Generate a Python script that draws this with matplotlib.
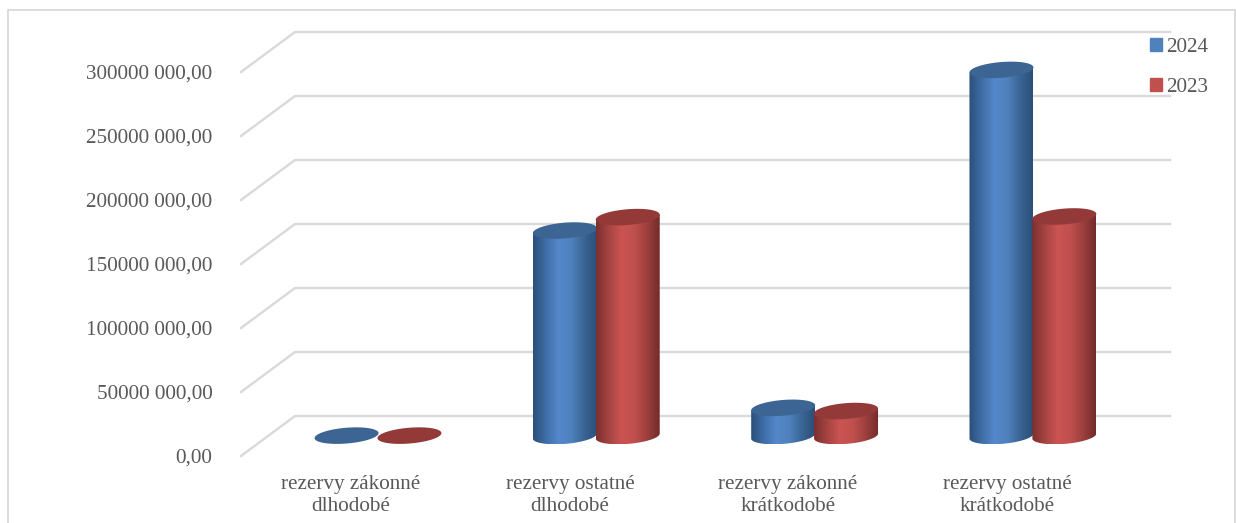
import numpy as np
import matplotlib.pyplot as plt
from matplotlib.colors import LinearSegmentedColormap
from matplotlib.patches import Patch, PathPatch
from matplotlib.path import Path

categories = ["rezervy zákonné\ndlhodobé", "rezervy ostatné\ndlhodobé",
              "rezervy zákonné\nkrátkodobé", "rezervy ostatné\nkrátkodobé"]
values_2024 = [300000, 160500000, 22000000, 286000000]
values_2023 = [300000, 171000000, 19500000, 171500000]
y_ticks = [0, 50000000, 100000000, 150000000, 200000000, 250000000, 300000000]
y_tick_labels = ["0,00", "50000 000,00", "100000 000,00", "150000 000,00",
                 "200000 000,00", "250000 000,00", "300000 000,00"]

plt.rcParams["font.family"] = ["Liberation Serif", "DejaVu Sans"]
TEXT = "#595959"
GRID = "#d9d9d9"

# px scale of the picture: 64 px per 50M, one category every 218.3 px
PX_Y = 1.28 / 1e6
PX_X = 218.3
X0, Y0 = 378.0, 436.0


def xd(px):
    return (px - X0) / PX_X


def yd(px):
    return (Y0 - px) / PX_Y


fig = plt.figure(figsize=(12.36, 5.23), dpi=100)
ax = fig.add_axes([0, 0, 1, 1])
ax.axis("off")

# chart frame, bottom is cut off in the original
ax.plot([xd(7.5), xd(7.5), xd(1235), xd(1235)], [yd(523), yd(9.5), yd(9.5), yd(523)],
        color=GRID, lw=1.3, zorder=1)

# 3d floor/wall grid
depth = 20 / PX_Y
for v, lab in zip(y_ticks, y_tick_labels):
    ax.plot([xd(241), xd(295), xd(1170)], [v - depth, v + depth, v + depth],
            color=GRID, lw=1.7, zorder=1, solid_joinstyle="miter")
    ax.text(xd(212.5), v - depth - 2.4 / PX_Y, lab, ha="right", va="center", fontsize=15.2, color=TEXT)

blue = LinearSegmentedColormap.from_list(
    "b", ["#2b4f7a", "#3f6ea6", "#5588cb", "#4f81bd", "#3a6595", "#2c4f78"])
red = LinearSegmentedColormap.from_list(
    "r", ["#7d302e", "#a54442", "#cb5452", "#c0504d", "#9c403e", "#732b29"])
grad = np.linspace(0, 1, 128).reshape(1, -1)

half_w = 32.0 / PX_X
t = np.linspace(0, 2 * np.pi, 121)
ell_x = half_w * np.cos(t)
ell_y = (2.5 * np.cos(t) + 7.9 * np.sin(t)) / PX_Y


def cylinder(cx, val, cmap, top_col, z):
    if val > 1e6:
        low = t > np.pi
        # lower half of the base ellipse, then up to the top edge
        xs = np.r_[cx + ell_x[low], cx - half_w]
        ys = np.r_[ell_y[low], val + ell_y[60]]
        xs = np.r_[xs[:-1], cx + half_w, xs[-1]]
        ys = np.r_[ys[:-1], val + ell_y[0], ys[-1]]
        body = Path(np.r_[np.c_[xs, ys], [[xs[0], ys[0]]]], closed=True)
        im = ax.imshow(grad, cmap=cmap, aspect="auto", zorder=z, interpolation="bilinear",
                       extent=(cx - half_w, cx + half_w, ys.min(), ys.max()))
        clip = PathPatch(body, transform=ax.transData, fc="none", ec="none")
        ax.add_patch(clip)
        im.set_clip_path(clip)
    ax.fill(cx + ell_x, val + ell_y, color=top_col, lw=0, zorder=z + 0.1)


pos = np.arange(len(categories))
for i in pos:
    cylinder(i - 0.144, values_2024[i], blue, "#3d6594", 3 + i)
    cylinder(i + 0.144, values_2023[i], red, "#933a38", 3.5 + i)
ax.set_xlim(xd(0), xd(1236))
ax.set_ylim(yd(523), yd(0))

label_px = [351, 570, 788, 1007]
for px, lab in zip(label_px, categories):
    ax.text(xd(px), yd(495.5), lab, ha="center", va="center", fontsize=15.2, color=TEXT, linespacing=1.28)

handles = [Patch(color="#4f81bd", label="2024"), Patch(color="#c0504d", label="2023")]
fig.legend(handles=handles, loc="upper left", bbox_to_anchor=(1150 / 1236, 1 - 38 / 523), frameon=False,
           fontsize=15.2, labelcolor=TEXT, handlelength=0.55, handleheight=0.55,
           handletextpad=0.2, labelspacing=1.0, borderpad=0, borderaxespad=0)

fig.savefig("out.png", dpi=100)
